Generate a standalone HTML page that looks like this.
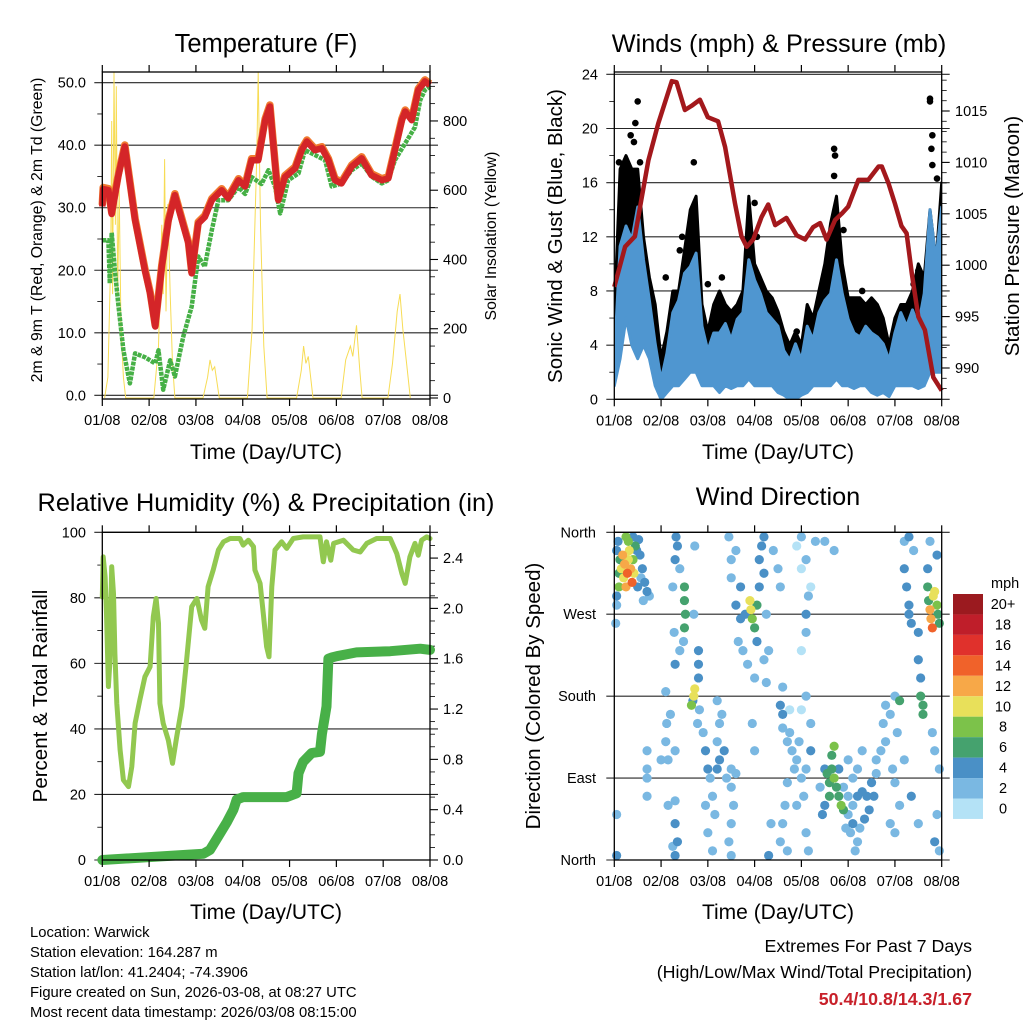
<!DOCTYPE html>
<html><head><meta charset="utf-8"><style>
html,body{margin:0;padding:0;background:#fff;}
svg{display:block;font-family:"Liberation Sans",sans-serif;}
</style></head><body>
<svg id="chart" width="1024" height="1024" viewBox="0 0 1024 1024" xmlns="http://www.w3.org/2000/svg">
<rect width="1024" height="1024" fill="#fff"/>
<g id="layer"></g>
<text x="266" y="52" font-size="25.5" text-anchor="middle">Temperature (F)</text>
<text x="779" y="52" font-size="25.3" text-anchor="middle">Winds (mph) &amp; Pressure (mb)</text>
<text x="266" y="511" font-size="25.3" text-anchor="middle">Relative Humidity (%) &amp; Precipitation (in)</text>
<text x="778" y="505" font-size="25.3" text-anchor="middle">Wind Direction</text>
<text x="266" y="459" font-size="21" text-anchor="middle">Time (Day/UTC)</text>
<text x="778" y="459" font-size="21" text-anchor="middle">Time (Day/UTC)</text>
<text x="266" y="919" font-size="21" text-anchor="middle">Time (Day/UTC)</text>
<text x="778" y="919" font-size="21" text-anchor="middle">Time (Day/UTC)</text>
<text transform="translate(42,230) rotate(-90)" font-size="15.8" text-anchor="middle">2m &amp; 9m T (Red, Orange) &amp; 2m Td (Green)</text>
<text transform="translate(496,236) rotate(-90)" font-size="15.8" text-anchor="middle">Solar Insolation (Yellow)</text>
<text transform="translate(562,236) rotate(-90)" font-size="20.5" text-anchor="middle">Sonic Wind &amp; Gust (Blue, Black)</text>
<text transform="translate(1019,236) rotate(-90)" font-size="20.5" text-anchor="middle">Station Pressure (Maroon)</text>
<text transform="translate(47,696) rotate(-90)" font-size="20.5" text-anchor="middle">Percent &amp; Total Rainfall</text>
<text transform="translate(540,696) rotate(-90)" font-size="20.5" text-anchor="middle">Direction (Colored By Speed)</text>
<g font-size="14.8">
<text x="30" y="937">Location: Warwick</text>
<text x="30" y="957">Station elevation: 164.287 m</text>
<text x="30" y="977">Station lat/lon: 41.2404; -74.3906</text>
<text x="30" y="997">Figure created on Sun, 2026-03-08, at 08:27 UTC</text>
<text x="30" y="1017">Most recent data timestamp: 2026/03/08 08:15:00</text>
</g>
<g font-size="17.8" text-anchor="end">
<text x="972" y="952">Extremes For Past 7 Days</text>
<text x="972" y="978">(High/Low/Max Wind/Total Precipitation)</text>
<text x="972" y="1005" fill="#c8202a" font-weight="bold">50.4/10.8/14.3/1.67</text>
</g>
</svg>
<script>
const dayLabels=["01/08","02/08","03/08","04/08","05/08","06/08","07/08","08/08"];
const tempRed=[[0,30.2],[0.02,33],[0.13,32.8],[0.2,29],[0.27,32],[0.34,35],[0.48,39.8],[0.7,28],[0.91,20],[1.02,16.3],[1.13,11],[1.27,20.6],[1.41,27.8],[1.55,32],[1.7,28],[1.84,24.3],[1.91,19.5],[2.05,27.5],[2.19,28.5],[2.34,31.2],[2.55,32.8],[2.69,31.5],[2.91,34.4],[3.05,33.4],[3.19,37.6],[3.33,37.6],[3.48,44],[3.58,46.2],[3.65,40.3],[3.76,31.2],[3.9,34.9],[4.12,36.3],[4.26,39.2],[4.37,40.6],[4.54,39.2],[4.69,39.5],[4.83,37.6],[4.97,34.4],[5.11,33.9],[5.33,36.6],[5.54,37.9],[5.75,35.2],[5.97,34.4],[6.11,34.7],[6.25,39.2],[6.4,44],[6.47,45.4],[6.61,44],[6.75,48.8],[6.89,50.2],[7.0,49.6]];
const tempGreen=[[0,24.8],[0.13,24.8],[0.16,17.9],[0.2,26],[0.27,20],[0.34,14.7],[0.45,7.2],[0.59,1.9],[0.7,6.7],[0.91,6.1],[1.13,5.1],[1.2,7.2],[1.3,0.9],[1.45,5.6],[1.55,3],[1.73,9.4],[1.91,14.2],[2.05,22.2],[2.19,20.6],[2.34,26.4],[2.48,31.2],[2.69,31.2],[2.91,33.3],[3.05,32.2],[3.19,34.9],[3.4,33.8],[3.55,36],[3.69,33.4],[3.8,29.1],[3.97,34.4],[4.19,35.5],[4.33,39.2],[4.47,38.7],[4.76,37.6],[4.9,33.4],[5.11,33.9],[5.33,36],[5.54,37.1],[5.75,35],[5.97,33.9],[6.11,34.4],[6.25,37.6],[6.47,40.3],[6.68,42.9],[6.79,47.2],[6.89,48.8],[7.0,49.4]];
const solar=[[0.05,0],[0.12,60],[0.18,400],[0.2,800],[0.22,300],[0.25,940],[0.28,500],[0.3,900],[0.33,300],[0.36,600],[0.4,200],[0.45,60],[0.5,0],[1.1,0],[1.2,150],[1.27,500],[1.3,300],[1.33,690],[1.36,250],[1.4,560],[1.45,300],[1.5,100],[1.55,0],[2.15,0],[2.25,60],[2.3,110],[2.35,80],[2.4,90],[2.5,0],[3.1,0],[3.2,200],[3.25,450],[3.3,700],[3.33,940],[3.38,500],[3.45,150],[3.52,0],[4.15,0],[4.25,80],[4.3,150],[4.35,100],[4.4,120],[4.5,0],[5.1,0],[5.2,110],[5.3,150],[5.35,120],[5.43,210],[5.5,80],[5.55,0],[6.1,0],[6.2,100],[6.3,250],[6.36,300],[6.42,200],[6.5,100],[6.58,0]];
const windStep=0.125;
const blueMax=[2.9,11.3,12.8,11.8,14.2,10.3,7.3,4.1,1.4,3.4,6.4,7.3,9.3,9.8,10.8,5.4,3.6,4.9,4.9,5.6,4.4,5.9,6.4,10.3,8.8,7.8,6.4,5.9,5.4,3.6,2.9,4.1,2.9,5.4,4.4,6.4,7.3,7.8,10.3,7.8,5.9,4.9,4.6,5.4,4.9,4.6,4.1,2.9,4.9,6.4,5.4,6.6,5.4,7.8,14,10.3,14.2];
const blueMin=[1,3,6,4,3,4,3,1,0,0.5,1,1,1.5,2,2,1,1,1,0.5,1,0.8,1,1,1.5,1,1,1,1,0.5,0.3,0,0,0.3,0.5,1,1,1,1,1.5,1,1,0.8,1,1,0.5,0.3,0.5,0.2,1,1,1,1,0.8,1,2,2,2];
const gustDense=[6,17,18,17,17,12,9,7,3,5,8,8,11,14,15,7,5,7,8,7,6.5,7,8,15,10,9,8,7.5,6.5,5,4,5,4,7,6,8,10,13,15,10,7.5,7.5,7.5,7,7.5,7,6,4,6,7,7,8,10,9,14,10,16];
const gustOutliers=[[0.1,17.5],[0.15,16],[0.3,16.5],[0.45,20.4],[0.5,22],[0.42,19],[0.55,17.5],[0.35,19.5],[1.7,17.5],[3.0,14.5],[3.05,12],[4.7,18.5],[4.72,18],[4.7,16.5],[4.9,12.5],[6.75,22.2],[6.75,22],[6.8,19.5],[6.78,18.5],[6.8,17.3],[6.9,16.3],[6.4,8.5],[6.5,9.5],[5.3,8],[2.0,8.5],[2.3,9],[3.9,5],[1.1,9],[1.4,11],[1.45,12]];
const pressure=[[0,997.9],[0.23,1001.8],[0.44,1002.8],[0.58,1006.4],[0.73,1010.2],[0.94,1013.8],[1.23,1017.9],[1.33,1017.8],[1.51,1015.1],[1.65,1015.5],[1.83,1016.1],[2.0,1014.4],[2.22,1014],[2.37,1011.5],[2.58,1006],[2.72,1002.8],[2.83,1001.8],[2.97,1002.5],[3.15,1004.7],[3.29,1005.9],[3.44,1003.9],[3.68,1004.6],[3.9,1002.9],[4.08,1002.5],[4.25,1003.7],[4.4,1004.1],[4.54,1002.5],[4.72,1004.4],[4.86,1005],[5.0,1005.7],[5.22,1008.3],[5.43,1008.3],[5.65,1009.6],[5.72,1009.6],[5.86,1008],[6.0,1006],[6.14,1003.8],[6.25,1003.1],[6.36,999.2],[6.5,995],[6.64,993.7],[6.82,989.1],[7.0,987.8]];
const rhPoints=[[0,80.3],[0.02,92.5],[0.06,86.4],[0.09,75.2],[0.13,52.9],[0.16,60],[0.2,89.5],[0.24,81.3],[0.27,63],[0.31,47.8],[0.38,33.6],[0.45,24.4],[0.56,22.4],[0.63,28.5],[0.7,41.7],[0.8,48.8],[0.91,55.9],[1.02,59],[1.09,74.2],[1.15,79.8],[1.2,72.2],[1.23,47.8],[1.3,41.7],[1.41,36.6],[1.5,29.5],[1.59,37.6],[1.7,46.8],[1.8,61],[1.91,77.3],[2.02,79.8],[2.12,73.2],[2.19,70.7],[2.26,83.4],[2.37,88.5],[2.48,94.6],[2.59,97.1],[2.73,98.1],[2.94,98.1],[3.01,96.1],[3.12,97.6],[3.23,95.6],[3.26,88.5],[3.37,84.4],[3.44,75.2],[3.51,65.1],[3.56,62],[3.62,83.4],[3.69,94.6],[3.83,97.1],[3.94,95.1],[4.08,98.1],[4.29,98.6],[4.65,98.6],[4.72,91],[4.79,97.1],[4.88,91.5],[4.94,96.6],[5.15,97.6],[5.36,94.6],[5.51,94],[5.65,96.6],[5.86,98.1],[6.15,98.1],[6.29,93.5],[6.4,87.4],[6.47,84.4],[6.57,92.5],[6.68,96.6],[6.75,93],[6.82,97.6],[6.93,98.6],[7.0,98.1]];
const precipPoints=[[0,0],[2.16,0.05],[2.3,0.08],[2.48,0.19],[2.66,0.3],[2.8,0.4],[2.87,0.48],[3.01,0.5],[3.94,0.5],[4.15,0.53],[4.19,0.69],[4.29,0.78],[4.47,0.85],[4.65,0.86],[4.69,1.0],[4.79,1.22],[4.83,1.6],[4.9,1.61],[5.01,1.62],[5.43,1.65],[6.15,1.66],[6.79,1.68],[7.0,1.67]];
const dirPoints=[[0.1,300,8],[0.1,315,6],[0.12,330,6],[0.15,320,10],[0.18,335,12],[0.2,310,10],[0.22,325,12],[0.25,300,12],[0.28,315,14],[0.3,330,10],[0.32,340,10],[0.35,320,12],[0.38,305,14],[0.4,330,8],[0.45,345,6],[0.42,315,10],[0.3,350,8],[0.25,355,8],[0.05,290,4],[0.05,340,4],[0.05,280,2],[0.03,260,2],[0.08,350,4],[0.4,355,4],[0.48,340,4],[0.52,352,4],[0.55,335,4],[0.6,320,4],[0.65,305,4],[0.7,295,4],[0.75,290,2],[0.5,300,4],[0.57,310,2],[0.62,285,2],
[1.5,300,6],[1.5,285,6],[1.52,270,6],[1.5,255,6],[1.48,240,2],[1.3,330,4],[1.35,345,4],[1.32,355,4],[1.4,320,2],[1.25,300,2],[1.28,250,2],[1.7,270,2],[1.72,345,2],[1.3,215,4],[1.4,230,2],
[1.65,170,8],[1.7,180,10],[1.72,188,10],[1.68,175,4],[1.8,230,4],[1.8,215,4],[1.8,200,4],[1.82,165,2],[1.78,150,2],[1.1,185,2],[1.12,150,2],[1.1,130,2],[1.15,110,2],[1.3,120,2],[1.3,65,2],[1.3,40,4],[1.35,20,4],[1.3,5,4],[1.25,15,2],[1.0,110,2],[0.7,100,2],[0.7,90,2],[1.15,60,2],
[1.9,140,2],[1.95,120,4],[2.0,100,4],[2.05,90,2],[2.1,70,2],[2.15,50,2],[2.0,30,2],[2.1,10,2],[2.2,130,2],[2.25,110,4],[2.2,100,4],[2.3,160,2],[2.35,120,4],[2.4,90,2],[2.5,80,2],[2.5,40,2],[2.45,20,2],[2.55,60,2],[2.5,5,2],[1.95,60,2],[2.25,150,2],[2.2,175,2],
[2.6,280,4],[2.7,300,4],[2.7,265,4],[2.8,270,4],[2.9,285,10],[2.92,275,10],[2.95,265,8],[3.0,255,6],[3.05,280,6],[3.1,300,4],[3.1,330,4],[3.15,345,4],[3.2,355,4],[3.2,315,4],[3.25,270,2],[2.5,330,2],[2.45,355,2],[2.5,310,2],[2.6,340,2],[2.65,240,2],[2.75,230,2],[2.85,215,2],[3.3,230,2],[3.2,220,2],[3.05,240,4],[3.25,195,2],[3.4,340,2],[3.5,320,2],[3.55,300,2],[3.6,190,2],[3.0,200,2],[2.95,150,2],[3.0,120,2],[2.6,95,2],[2.5,100,2],
[3.55,170,4],[3.6,160,4],[3.6,145,2],[3.7,130,2],[3.75,140,2],[3.8,120,2],[3.85,100,2],[3.9,110,2],[3.95,130,2],[4.0,90,2],[4.05,70,2],[4.1,100,2],[3.7,85,2],[3.65,60,2],[3.6,40,2],[3.55,20,2],[3.7,10,2],[4.1,30,2],[4.15,10,2],[3.3,5,4],[3.35,40,2],[3.9,60,2],[4.2,150,2],[4.2,120,4],[3.75,165,0],[4.0,165,0],[4.1,180,2],[4.0,230,0],[4.1,250,2],[4.1,270,4],[4.15,290,2],[4.1,330,2],[4.0,320,0],[3.9,345,0],[4.0,355,2],[4.3,350,2],[4.2,300,0],[4.5,350,2],[4.7,340,2],
[4.55,95,6],[4.6,85,6],[4.65,100,6],[4.7,90,8],[4.75,80,6],[4.8,70,6],[4.85,60,8],[4.9,55,6],[4.65,115,6],[4.7,125,8],[4.6,70,6],[4.5,60,4],[4.45,50,4],[4.4,80,2],[4.5,100,4],[4.8,100,4],[4.9,80,2],[5.0,70,2],[5.0,50,2],[5.05,30,2],[5.1,40,4],[5.1,60,2],[5.2,70,4],[5.3,75,4],[5.4,70,4],[5.45,55,4],[5.35,45,4],[5.25,35,2],[5.2,20,2],[5.15,10,2],[5.5,85,4],[5.55,70,4],[5.6,95,2],[5.6,110,2],[5.7,120,2],[5.8,130,2],[5.75,150,2],[5.8,170,2],[5.9,160,2],[5.95,100,2],[5.9,40,2],[6.0,30,2],[5.0,110,2],[5.1,90,2],[5.2,100,2],[5.3,120,2],[4.95,35,2],
[6.2,320,4],[6.25,300,4],[6.3,280,4],[6.3,270,4],[6.35,260,4],[6.2,350,2],[6.3,355,4],[6.4,340,2],[6.5,250,4],[6.5,220,4],[6.55,200,4],[6.55,180,6],[6.6,170,6],[6.6,160,6],[6.1,175,6],[6.05,140,2],[6.0,180,2],[6.7,300,6],[6.72,285,6],[6.75,275,12],[6.77,265,12],[6.8,255,14],[6.82,290,10],[6.9,280,8],[6.92,270,6],[6.95,260,6],[6.85,295,10],[6.7,320,4],[6.75,350,2],[6.9,335,4],[6.8,140,2],[6.85,120,2],[6.95,100,2],[6.9,50,2],[6.85,20,4],[6.95,10,2],[6.0,85,2],[6.2,110,2],[6.35,70,4],[6.1,60,2],[6.5,40,2],[0.05,50,2],[0.05,5,4],[0.7,120,2],[0.7,70,2],[1.2,160,2]];
const speedLabels=["0","2","4","6","8","10","12","14","16","18","20+"];
const speedColors=["#b4e2f6","#7ab8e2","#4a90c6","#45a26e","#7cc24a","#e8e05a","#f7a848","#f0622a","#e0312c","#bf1e2a","#9b1a1f"];
const tempTicks=["0.0","10.0","20.0","30.0","40.0","50.0"];
const solarTicks=["0","200","400","600","800"];
const windTicks=["0","4","8","12","16","20","24"];
const pressTicks=["990","995","1000","1005","1010","1015"];
const rhTicks=["0","20","40","60","80","100"];
const precipTicks=["0.0","0.4","0.8","1.2","1.6","2.0","2.4"];
const dirTicks=["North","East","South","West","North"];

const NS="http://www.w3.org/2000/svg";
const layer=document.getElementById('layer');
function mk(tag,attrs,parent){const e=document.createElementNS(NS,tag);for(const k in attrs)e.setAttribute(k,attrs[k]);(parent||layer).appendChild(e);return e;}
const P={
 t:{x0:102.3,x1:430,y0:72,y1:399},
 w:{x0:614.3,x1:941.7,y0:72,y1:399.3},
 r:{x0:102.3,x1:430,y0:532.3,y1:860},
 d:{x0:614.3,x1:941.7,y0:532.3,y1:860}
};
function xs(p,d){return p.x0+d*(p.x1-p.x0)/7;}
const yTemp=v=>395.3-v*6.252;
const ySolar=v=>398-v*0.3463;
const yWind=v=>399.3-v*13.54;
const yPress=v=>368-(v-990)*10.28;
const yRH=v=>860-v*3.277;
const yPrec=v=>860-v*125.8;
const yDir=v=>860-v*(327.7/360);

function panel(p,name){
 const g=mk('g',{});
 
 
 return g;
}
function frame(p,g){
 const r=mk('rect',{x:p.x0,y:p.y0,width:p.x1-p.x0,height:p.y1-p.y0,fill:'none',stroke:'#000','stroke-width':1.3},g);
 
 
 dayLabels.forEach((l,i)=>{
  const x=xs(p,i);
  mk('line',{x1:x,x2:x,y1:p.y1,y2:p.y1+7,stroke:'#000','stroke-width':1.2},g);
  mk('line',{x1:x,x2:x,y1:p.y0,y2:p.y0-7,stroke:'#000','stroke-width':1.2},g);
  const t=mk('text',{x:x,y:p.y1+26,'font-size':14.5,'text-anchor':'middle'},g);
  t.textContent=l;
  
  
 });
}
function leftAxis(p,g,labels,vals,yf,grid,labX,minor){
 labels.forEach((l,i)=>{
  const y=yf(vals[i]);
  if(grid) mk('line',{x1:p.x0-8,x2:p.x1+8,y1:y,y2:y,stroke:'#000','stroke-width':1.1,opacity:0.85},g);
  else mk('line',{x1:p.x0-8,x2:p.x0,y1:y,y2:y,stroke:'#000','stroke-width':1.1},g);
  const t=mk('text',{x:labX,y:y+5,'font-size':14.5,'text-anchor':'end'},g);
  t.textContent=l;
  
  
 });
 (minor||[]).forEach(v=>{const y=yf(v);mk('line',{x1:p.x0-5,x2:p.x0,y1:y,y2:y,stroke:'#000','stroke-width':0.8},g);});
}
function rightAxis(p,g,labels,vals,yf,labX,minor){
 labels.forEach((l,i)=>{
  const y=yf(vals[i]);
  mk('line',{x1:p.x1,x2:p.x1+8,y1:y,y2:y,stroke:'#000','stroke-width':1.1},g);
  const t=mk('text',{x:labX,y:y+5,'font-size':14.5,'text-anchor':'start'},g);
  t.textContent=l;
  
  
 });
 (minor||[]).forEach(v=>{const y=yf(v);mk('line',{x1:p.x1,x2:p.x1+5,y1:y,y2:y,stroke:'#000','stroke-width':0.8},g);});
}
function path(p,pts,yf){return pts.map((q,i)=>(i?'L':'M')+xs(p,q[0]).toFixed(1)+','+yf(q[1]).toFixed(1)).join('');}

// ---------- Temperature ----------
{const p=P.t,g=panel(p,'temperature-panel');
 const clip=mk('clipPath',{id:'ct'},g);mk('rect',{x:p.x0,y:p.y0,width:p.x1-p.x0,height:p.y1-p.y0},clip);
 leftAxis(p,g,tempTicks,tempTicks.map(Number),yTemp,true,86,[5,15,25,35,45]);
 rightAxis(p,g,solarTicks,solarTicks.map(Number),ySolar,443,[50,100,150,250,300,350,450,500,550,650,700,750,850,900]);
 const s=mk('path',{d:path(p,solar,ySolar),fill:'none',stroke:'#f7dc55','stroke-width':1,'clip-path':'url(#ct)'},g);
 
 const gr=mk('path',{d:path(p,tempGreen,yTemp),fill:'none',stroke:'#46b046','stroke-width':4.5,'stroke-dasharray':'4 1','stroke-linejoin':'round'},g);
 
 const o=mk('path',{d:path(p,tempRed,yTemp),fill:'none',stroke:'#f07a30','stroke-width':7.5,'stroke-linejoin':'round',transform:'translate(0,-1.5)'},g);
 
 const r=mk('path',{d:path(p,tempRed,yTemp),fill:'none',stroke:'#d42528','stroke-width':6.5,'stroke-linejoin':'round'},g);
 
 frame(p,g);}

// ---------- Winds ----------
{const p=P.w,g=panel(p,'winds-panel');
 const clip=mk('clipPath',{id:'cw'},g);mk('rect',{x:p.x0,y:p.y0,width:p.x1-p.x0,height:p.y1-p.y0},clip);
 leftAxis(p,g,windTicks,windTicks.map(Number),yWind,true,598,[2,6,10,14,18,22]);
 rightAxis(p,g,pressTicks,pressTicks.map(Number),yPress,955,[988,989,991,992,993,994,996,997,998,999,1001,1002,1003,1004,1006,1007,1008,1009,1011,1012,1013,1014,1016,1017,1018]);
 const up=blueMax.map((v,i)=>[i*windStep,v]);
 const gp=gustDense.map((v,i)=>[i*windStep,v]);
 const lo=blueMin.map((v,i)=>[i*windStep,v]).reverse();
 const gb=mk('path',{d:path(p,gp,yWind)+path(p,up.slice().reverse(),yWind).replace('M','L')+'Z',fill:'#000',stroke:'#000','stroke-width':3,'stroke-linejoin':'round','clip-path':'url(#cw)'},g);
 
 gustOutliers.forEach(q=>{
  const c=mk('circle',{cx:xs(p,q[0]),cy:yWind(q[1]),r:3.3,fill:'#000'},g);
  
  
 });
 const bb=mk('path',{d:path(p,up,yWind)+path(p,lo,yWind).replace('M','L')+'Z',fill:'#4f96d0',stroke:'#4f96d0','stroke-width':3,'stroke-linejoin':'round','clip-path':'url(#cw)'},g);
 
 const pr=mk('path',{d:path(p,pressure,yPress),fill:'none',stroke:'#a3181c','stroke-width':4.5,'stroke-linejoin':'round'},g);
 
 frame(p,g);}

// ---------- RH ----------
{const p=P.r,g=panel(p,'humidity-panel');
 leftAxis(p,g,rhTicks,rhTicks.map(Number),yRH,true,86,[10,30,50,70,90]);
 rightAxis(p,g,precipTicks,precipTicks.map(Number),yPrec,443,[0.1,0.2,0.3,0.5,0.6,0.7,0.9,1.0,1.1,1.3,1.4,1.5,1.7,1.8,1.9,2.1,2.2,2.3,2.5]);
 const rh=mk('path',{d:path(p,rhPoints,yRH),fill:'none',stroke:'#92c850','stroke-width':5,'stroke-linejoin':'round','stroke-linecap':'round'},g);
 
 const pc=mk('path',{d:path(p,precipPoints,yPrec),fill:'none',stroke:'#48b048','stroke-width':10,'stroke-linejoin':'round','stroke-linecap':'round'},g);
 
 frame(p,g);}

// ---------- Direction ----------
{const p=P.d,g=panel(p,'wind-direction-panel');
 const dv=[0,90,180,270,360];
 dirTicks.forEach((l,i)=>{
  const y=yDir(dv[i]);
  mk('line',{x1:p.x0-8,x2:p.x1+8,y1:y,y2:y,stroke:'#000','stroke-width':1.1,opacity:0.85},g);
  const t=mk('text',{x:596,y:y+5,'font-size':14.5,'text-anchor':'end'},g);
  t.textContent=l;
  
  
 });
 const sorted=dirPoints.slice().sort((a,b)=>a[2]-b[2]);
 sorted.forEach(q=>{
  const c=mk('circle',{cx:xs(p,q[0]),cy:yDir(q[1]),r:4.6,fill:speedColors[Math.min(10,Math.floor(q[2]/2))]},g);
  
  
 });
 frame(p,g);
 const cb=mk('g',{},g);
 
 
 const mt=mk('text',{x:991,y:588,'font-size':14.5},cb);mt.textContent='mph';
 speedLabels.forEach((l,i)=>{
  const k=10-i; const y=594+i*20.45;
  mk('rect',{x:953,y:y,width:30,height:20.45,fill:speedColors[k]},cb);
  const t=mk('text',{x:1003,y:y+15,'font-size':14.5,'text-anchor':'middle'},cb);
  t.textContent=speedLabels[k];
  
  
 });
}
</script>
</body></html>
